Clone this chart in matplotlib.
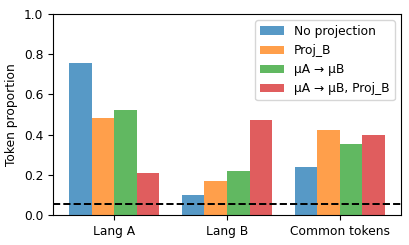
import numpy as np
import matplotlib
matplotlib.use("Agg")
import matplotlib.pyplot as plt

groups = ["Lang A", "Lang B", "Common tokens"]
series = ["No projection", "Proj_B", "μA → μB", "μA → μB, Proj_B"]
no_proj = [0.755, 0.098, 0.240]
proj_b = [0.481, 0.171, 0.423]
mu_shift = [0.521, 0.217, 0.352]
mu_shift_proj = [0.210, 0.471, 0.396]
baseline = 0.053

values = [no_proj, proj_b, mu_shift, mu_shift_proj]
colors = ["tab:blue", "tab:orange", "tab:green", "tab:red"]

plt.rcParams["font.size"] = 8.8

fig, ax = plt.subplots(figsize=(4.09, 2.45), dpi=100)
x = np.arange(len(groups))
width = 0.2
for i, (vals, lab) in enumerate(zip(values, series)):
    ax.bar(x + (i - 1.5) * width, vals, width, label=lab,
           color=colors[i], alpha=0.75)

ax.axhline(baseline, color="black", linestyle="--", linewidth=1.4)
ax.set_xticks(x)
ax.set_xticklabels(groups)
ax.set_ylim(0, 1.0)
ax.set_ylabel("Token proportion")
ax.legend(loc="upper right")

plt.subplots_adjust(left=0.13, right=0.98, top=0.943, bottom=0.122)
plt.savefig("out.png", dpi=100)
